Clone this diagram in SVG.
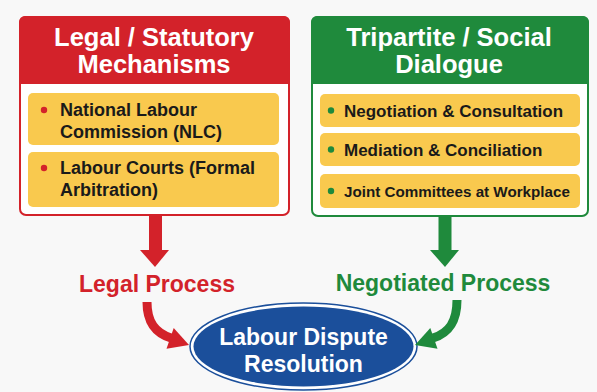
<svg xmlns="http://www.w3.org/2000/svg" width="597" height="392" viewBox="0 0 597 392">
  <style>
    text { font-family: "Liberation Sans", Arial, sans-serif; font-weight: bold; }
    .hdr { fill: #ffffff; font-size: 25.5px; text-anchor: middle; }
    .item { fill: #f9c94e; }
    .itxt { fill: #1a1a1a; font-size: 18px; }
    .rtxt { fill: #1a1a1a; font-size: 17px; }
    .lbl { font-size: 23px; text-anchor: middle; }
    .red { fill: #d3222a; }
    .green { fill: #1f8a3c; }
    .ctxt { fill: #ffffff; font-size: 23px; text-anchor: middle; }
  </style>
  <rect x="0" y="0" width="597" height="392" fill="#f8f8f8"/>

  <g id="legal-box">
    <rect x="20" y="17" width="269" height="198" rx="6" fill="#ffffff" stroke="#d3222a" stroke-width="2"/>
    <path d="M19,84 V22 a6,6 0 0 1 6,-6 H284 a6,6 0 0 1 6,6 V84 Z" fill="#d3222a"/>
    <text class="hdr" x="154" y="46">Legal / Statutory</text>
    <text class="hdr" x="154" y="73">Mechanisms</text>
    <g id="nlc">
      <rect class="item" x="28" y="93" width="251" height="52" rx="5"/>
      <circle class="red" cx="44" cy="110" r="3.2"/>
      <text class="itxt" x="60" y="116">National Labour</text>
      <text class="itxt" x="60" y="138">Commission (NLC)</text>
    </g>
    <g id="courts">
      <rect class="item" x="28" y="152" width="251" height="55" rx="5"/>
      <circle class="red" cx="44" cy="168" r="3.2"/>
      <text class="itxt" x="60" y="174">Labour Courts (Formal</text>
      <text class="itxt" x="60" y="196">Arbitration)</text>
    </g>
  </g>

  <g id="social-box">
    <rect x="312" y="17" width="276" height="199" rx="6" fill="#ffffff" stroke="#1f8a3c" stroke-width="2"/>
    <path d="M311,84 V22 a6,6 0 0 1 6,-6 H583 a6,6 0 0 1 6,6 V84 Z" fill="#1f8a3c"/>
    <text class="hdr" x="449" y="46">Tripartite / Social</text>
    <text class="hdr" x="449" y="73">Dialogue</text>
    <g id="negotiation">
      <rect class="item" x="320" y="94" width="260" height="33" rx="5"/>
      <circle class="green" cx="331" cy="110.5" r="3.2"/>
      <text class="rtxt" x="344" y="116.5">Negotiation &amp; Consultation</text>
    </g>
    <g id="mediation">
      <rect class="item" x="320" y="133" width="260" height="33" rx="5"/>
      <circle class="green" cx="331" cy="149.5" r="3.2"/>
      <text class="rtxt" x="344" y="155.5">Mediation &amp; Conciliation</text>
    </g>
    <g id="committees">
      <rect class="item" x="320" y="174" width="260" height="34" rx="5"/>
      <circle class="green" cx="331" cy="191" r="3.2"/>
      <text class="rtxt" x="344" y="196.5" style="font-size:15.2px">Joint Committees at Workplace</text>
    </g>
  </g>

  <g id="legal-process">
    <text class="lbl red" x="157" y="292">Legal Process</text>
  </g>
  <g id="negotiated-process">
    <text class="lbl green" x="443" y="291">Negotiated Process</text>
  </g>

  <g id="resolution">
    <ellipse cx="303.5" cy="346.5" rx="113.5" ry="43.5" fill="#ffffff" stroke="#1b4f9b" stroke-width="1.5"/>
    <ellipse cx="303.5" cy="346.5" rx="110" ry="40" fill="#1b4f9b"/>
    <text class="ctxt" x="303.5" y="345">Labour Dispute</text>
    <text class="ctxt" x="303.5" y="372">Resolution</text>
  </g>

  <g id="connectors">
    <rect x="149" y="215" width="13" height="36" fill="#d3222a"/>
    <polygon points="140,250 169,250 155,267" fill="#d3222a"/>
    <rect x="438.5" y="216" width="13" height="35" fill="#1f8a3c"/>
    <polygon points="430,250 459,250 445,267" fill="#1f8a3c"/>
    <path d="M147,302 C147,322 155,333 171,338" fill="none" stroke="#d3222a" stroke-width="9"/>
    <polygon points="189,345 173.7,328 166.5,348.8" fill="#d3222a"/>
    <path d="M457,300 C457,322 449,333 433,338" fill="none" stroke="#1f8a3c" stroke-width="9"/>
    <polygon points="415,345 430.3,328 437.5,348.8" fill="#1f8a3c"/>
  </g>
</svg>
